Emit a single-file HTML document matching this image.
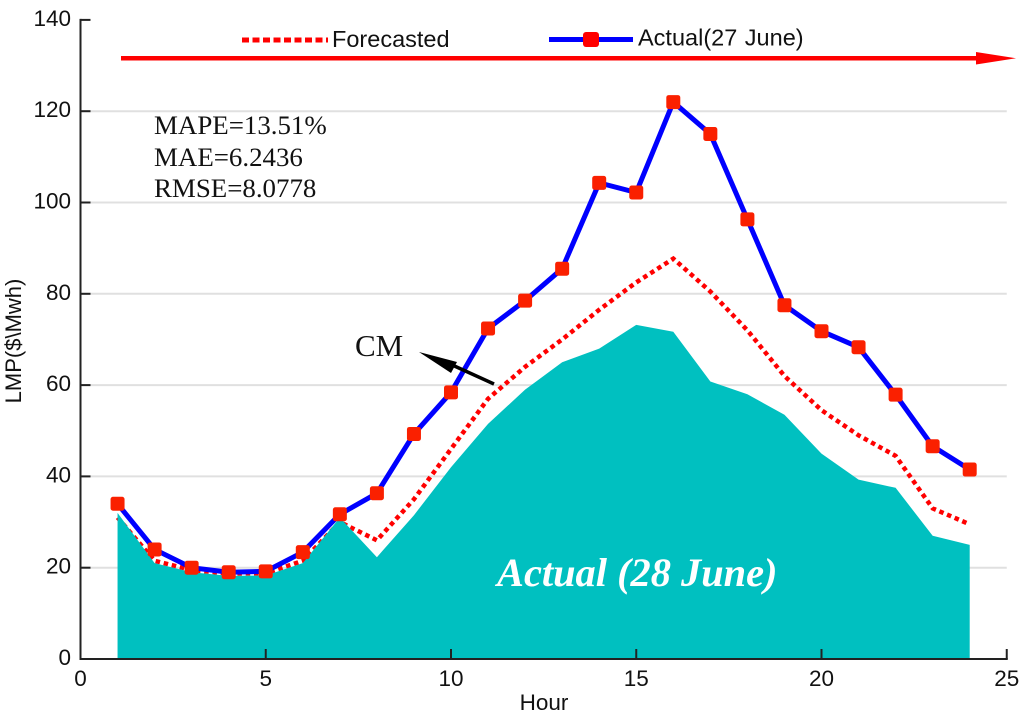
<!DOCTYPE html>
<html>
<head>
<meta charset="utf-8">
<title>LMP chart</title>
<style>
html,body{margin:0;padding:0;background:#fff;}
svg{display:block;}
text{font-family:"Liberation Sans",sans-serif;fill:#111;}
.serif{font-family:"Liberation Serif",serif;}
</style>
</head>
<body>
<svg id="chart" xmlns="http://www.w3.org/2000/svg" width="1024" height="717" viewBox="0 0 1024 717">
  <g id="grid"></g>
  <path id="forecast" fill="none" stroke="#f00" stroke-width="4.5" stroke-dasharray="4.5 3.8"/>
  <path id="area" fill="#00c0c0"/>
  <g id="axes"></g>
  <path id="actual" fill="none" stroke="#00f" stroke-width="5" stroke-linejoin="round"/>
  <g id="markers"></g>

  <g>
    <line x1="242" y1="40" x2="328" y2="40" stroke="#f00" stroke-width="5" stroke-dasharray="7 3.5"/>
    <text x="332" y="47" font-size="23.5">Forecasted</text>
    <line x1="549" y1="39.5" x2="633" y2="39.5" stroke="#00f" stroke-width="5"/>
    <rect x="583" y="32" width="16" height="15" rx="3" fill="#f00"/>
    <text x="638" y="45.5" font-size="23.5" word-spacing="1">Actual(27 June)</text>
  </g>

  <g>
    <line x1="121" y1="58.3" x2="978" y2="58.3" stroke="#f00" stroke-width="4.5"/>
    <polygon points="976,52 1016,58.3 976,64.5" fill="#f00"/>
  </g>

  <g>
    <text class="serif" x="154" y="134" font-size="26.9">MAPE=13.51%</text>
    <text class="serif" x="154" y="166" font-size="26.9">MAE=6.2436</text>
    <text class="serif" x="154" y="197" font-size="26.9">RMSE=8.0778</text>
  </g>

  <text class="serif" x="355" y="356" font-size="31">CM</text>
  <g>
    <line x1="494" y1="384" x2="450" y2="364" stroke="#000" stroke-width="3.5"/>
    <polygon points="419,352 457,362 451,373" fill="#000"/>
  </g>

  <text class="serif" x="497" y="586" font-size="40.4" font-style="italic" font-weight="bold" style="fill:#fff">Actual (28 June)</text>

  <text x="544" y="710" font-size="22.5" text-anchor="middle">Hour</text>
  <text transform="translate(21,341) rotate(-90)" font-size="22" text-anchor="middle">LMP($\Mwh)</text>
</svg>
<script>
const hours = [1,2,3,4,5,6,7,8,9,10,11,12,13,14,15,16,17,18,19,20,21,22,23,24];
const actual27 = [34,24,20,19,19.2,23.4,31.7,36.3,49.3,58.4,72.4,78.5,85.5,104.3,102.2,122,115,96.3,77.5,71.8,68.3,57.9,46.6,41.5];
const forecasted = [31,21.5,19.5,18.7,18.8,21.5,30,26,35,46,57,64,70,76.5,82.5,87.7,80.5,72,62,54.5,49,44.5,33,29.5];
const actual28 = [32,21,19,18.2,18.3,21,31,22.3,31.5,42,51.5,59,65,68,73.2,71.7,60.8,58,53.5,45,39.3,37.5,27,25];
const xTicks = [0,5,10,15,20,25];
const yTicks = [0,20,40,60,80,100,120,140];

const NS = 'http://www.w3.org/2000/svg';
const xAxis = v => 80.5 + v * 37.05;
const yAxis = v => 659 - v * 4.565;
const linePath = vals => vals.map((v,i) => (i ? 'L' : 'M') + xAxis(hours[i]).toFixed(2) + ' ' + yAxis(v).toFixed(2)).join(' ');

document.getElementById('forecast').setAttribute('d', linePath(forecasted));
document.getElementById('actual').setAttribute('d', linePath(actual27));
document.getElementById('area').setAttribute('d',
  linePath(actual28) + ' L' + xAxis(hours[hours.length-1]) + ' ' + yAxis(0) + ' L' + xAxis(hours[0]) + ' ' + yAxis(0) + ' Z');

const gridG = document.getElementById('grid');
const axesG = document.getElementById('axes');
function mk(parent, tag, attrs) {
  const el = document.createElementNS(NS, tag);
  for (const k in attrs) el.setAttribute(k, attrs[k]);
  parent.appendChild(el);
  return el;
}

yTicks.forEach(t => {
  if (t > 0 && t < 140) {
    const g = mk(gridG, 'line', {x1: xAxis(0), x2: xAxis(25), y1: yAxis(t), y2: yAxis(t), stroke: '#e0e0e0', 'stroke-width': 2});
    
    
  }
  const tick = mk(axesG, 'line', {x1: xAxis(0), x2: xAxis(0) + 10, y1: yAxis(t), y2: yAxis(t), stroke: '#222', 'stroke-width': 2});
  
  
  const lab = mk(axesG, 'text', {x: 71, y: yAxis(t) + 6, 'font-size': 22.5, 'text-anchor': 'end'});
  
  
  lab.textContent = t;
});

xTicks.forEach(t => {
  const tick = mk(axesG, 'line', {x1: xAxis(t), x2: xAxis(t), y1: yAxis(0), y2: yAxis(0) - 10, stroke: '#222', 'stroke-width': 2});
  
  
  const lab = mk(axesG, 'text', {x: xAxis(t), y: 686, 'font-size': 22.5, 'text-anchor': 'middle'});
  
  
  lab.textContent = t;
});

const xLine = mk(axesG, 'line', {x1: xAxis(0) - 1, x2: xAxis(25) + 1, y1: yAxis(0), y2: yAxis(0), stroke: '#222', 'stroke-width': 2});


const yLine = mk(axesG, 'line', {x1: xAxis(0), x2: xAxis(0), y1: yAxis(0), y2: yAxis(140) - 1, stroke: '#222', 'stroke-width': 2});



const markersG = document.getElementById('markers');
actual27.forEach((v,i) => {
  const m = mk(markersG, 'rect', {x: xAxis(hours[i]) - 7, y: yAxis(v) - 7, width: 14, height: 14, rx: 2.5, fill: '#fa2000'});
  
  
});
</script>
</body>
</html>
